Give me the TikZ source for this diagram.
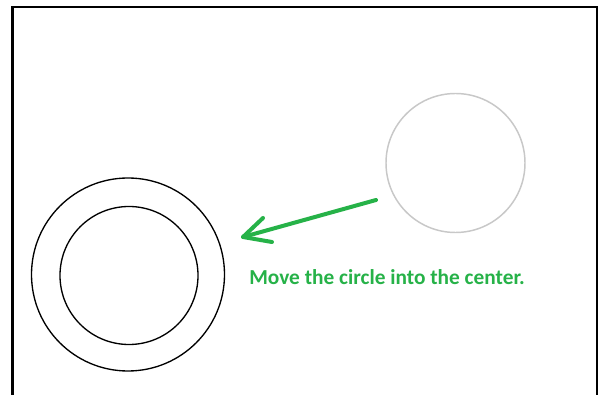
\documentclass[tikz,border=0pt]{standalone}
\usepackage{fontspec}
\setmainfont{Carlito}
\usetikzlibrary{arrows.meta}
\definecolor{arrowgreen}{RGB}{38,178,72}
\definecolor{ghostgray}{RGB}{200,200,200}
\tikzset{
  px/.style={x=0.75pt,y=-0.75pt},
  frame/.style={draw=black,line width=1.6pt},
  ring/.style={draw=black,line width=1pt},
  ghost/.style={draw=ghostgray,line width=1.1pt},
  movearrow/.style={draw=arrowgreen,line width=3pt,line cap=round,line join=round},
  caption/.style={text=arrowgreen,font=\bfseries\fontsize{16}{19}\selectfont,inner sep=0pt,anchor=base west}
}
\begin{document}
\begin{tikzpicture}[px]
\useasboundingbox (0,0) rectangle (608,395);
\fill[white] (0,0) rectangle (608,395);
\draw[frame] (12.5,400) -- (12.5,7) -- (597,7) -- (597,400);
\draw[ring] (128,274.5) circle[radius=96.5];
\draw[ring] (129,275.5) circle[radius=69];
\draw[ghost] (455.5,163) circle[radius=69.5];
\coordinate (start) at (376,200);
\coordinate (tip) at (243,237);
\coordinate (barbA) at (263,218);
\coordinate (barbB) at (272,242);
\draw[movearrow] (start) -- (tip);
\draw[movearrow] (barbA) -- (tip) -- (barbB);
\node[caption] (cap) at (249,285) {Move the circle into the center.};
\end{tikzpicture}
\end{document}
